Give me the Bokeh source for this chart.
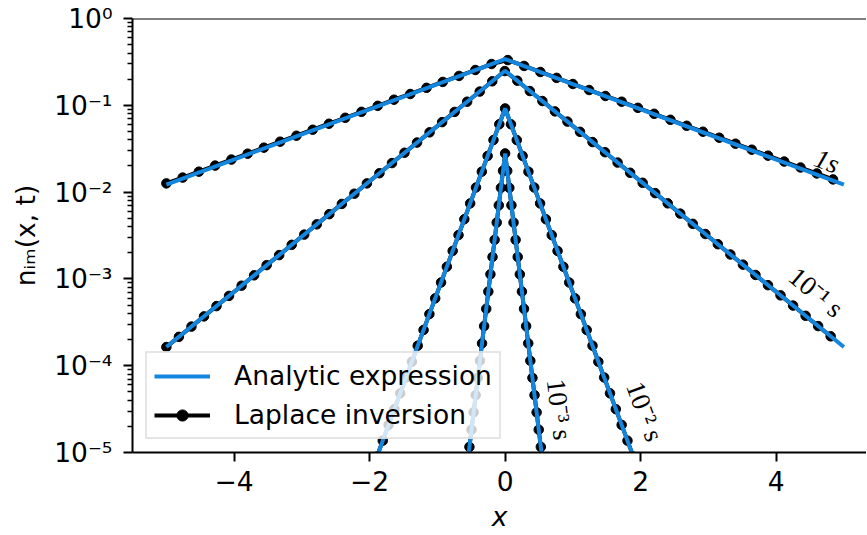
import math
from bokeh.plotting import figure
from bokeh.models import (ColumnDataSource, Range1d, FixedTicker, CustomJSTickFormatter,
                          Legend, LegendItem, Span)
from bokeh.core.properties import value
from bokeh.embed import file_html
from bokeh.resources import INLINE

# ---------------- data ----------------
# Laplace inversion points, t = 1 s
lap_1s_x = [-5.00, -4.76, -4.52, -4.28, -4.04, -3.80, -3.56, -3.32, -3.08, -2.84, -2.60,
            -2.36, -2.12, -1.88, -1.64, -1.40, -1.16, -0.92, -0.68, -0.44, -0.20, 0.04,
            0.28, 0.52, 0.76, 1.00, 1.24, 1.48, 1.72, 1.96, 2.20, 2.44, 2.68, 2.92, 3.16,
            3.40, 3.64, 3.88, 4.12, 4.36, 4.60, 4.84]
lap_1s_y = [1.26e-2, 1.47e-2, 1.72e-2, 2.02e-2, 2.37e-2, 2.77e-2, 3.25e-2, 3.81e-2, 4.46e-2,
            5.23e-2, 6.13e-2, 7.18e-2, 8.41e-2, 9.86e-2, 1.16e-1, 1.35e-1, 1.59e-1, 1.86e-1,
            2.18e-1, 2.55e-1, 2.99e-1, 3.32e-1, 2.84e-1, 2.42e-1, 2.07e-1, 1.76e-1, 1.50e-1,
            1.28e-1, 1.10e-1, 9.35e-2, 7.98e-2, 6.81e-2, 5.81e-2, 4.96e-2, 4.23e-2, 3.61e-2,
            3.08e-2, 2.63e-2, 2.25e-2, 1.92e-2, 1.64e-2, 1.40e-2]

# t = 0.1 s
lap_01s_x = [-5.000, -4.815, -4.630, -4.445, -4.260, -4.075, -3.890, -3.705, -3.520, -3.335,
             -3.150, -2.965, -2.780, -2.595, -2.410, -2.225, -2.040, -1.855, -1.670, -1.485,
             -1.300, -1.115, -0.930, -0.745, -0.560, -0.375, -0.190, -0.005, 0.180, 0.365,
             0.550, 0.735, 0.920, 1.105, 1.290, 1.475, 1.660, 1.845, 2.030, 2.215, 2.400,
             2.585, 2.770, 2.955, 3.140, 3.325, 3.510, 3.695, 3.880, 4.065, 4.250, 4.435,
             4.620, 4.805]
lap_01s_y = [1.64e-4, 2.15e-4, 2.82e-4, 3.70e-4, 4.86e-4, 6.37e-4, 8.35e-4, 1.10e-3, 1.44e-3,
             1.88e-3, 2.47e-3, 3.24e-3, 4.25e-3, 5.57e-3, 7.31e-3, 9.58e-3, 1.26e-2, 1.65e-2,
             2.16e-2, 2.84e-2, 3.72e-2, 4.88e-2, 6.40e-2, 8.39e-2, 1.10e-1, 1.44e-1, 1.89e-1,
             2.48e-1, 1.92e-1, 1.46e-1, 1.12e-1, 8.51e-2, 6.49e-2, 4.95e-2, 3.77e-2, 2.88e-2,
             2.19e-2, 1.67e-2, 1.28e-2, 9.73e-3, 7.42e-3, 5.65e-3, 4.31e-3, 3.29e-3, 2.51e-3,
             1.91e-3, 1.46e-3, 1.11e-3, 8.47e-4, 6.46e-4, 4.93e-4, 3.76e-4, 2.86e-4, 2.18e-4]

# t = 0.01 s
lap_001s_x = [-1.892, -1.806, -1.720, -1.634, -1.548, -1.462, -1.376, -1.290, -1.204, -1.118,
              -1.032, -0.946, -0.860, -0.774, -0.688, -0.602, -0.516, -0.430, -0.344, -0.258,
              -0.172, -0.086, 0.000, 0.086, 0.172, 0.258, 0.344, 0.430, 0.516, 0.602, 0.688,
              0.774, 0.860, 0.946, 1.032, 1.118, 1.204, 1.290, 1.376, 1.462, 1.548, 1.634,
              1.720, 1.806, 1.892]
lap_001s_y = [8.97e-6, 1.37e-5, 2.08e-5, 3.16e-5, 4.81e-5, 7.32e-5, 1.11e-4, 1.70e-4, 2.58e-4,
              3.93e-4, 5.97e-4, 9.09e-4, 1.38e-3, 2.10e-3, 3.20e-3, 4.87e-3, 7.41e-3, 1.13e-2,
              1.72e-2, 2.61e-2, 3.98e-2, 6.05e-2, 9.20e-2, 6.05e-2, 3.98e-2, 2.61e-2, 1.72e-2,
              1.13e-2, 7.41e-3, 4.87e-3, 3.20e-3, 2.10e-3, 1.38e-3, 9.09e-4, 5.97e-4, 3.93e-4,
              2.58e-4, 1.70e-4, 1.11e-4, 7.32e-5, 4.81e-5, 3.16e-5, 2.08e-5, 1.37e-5, 8.97e-6]

# t = 0.001 s
lap_0001s_x = [-0.558, -0.527, -0.496, -0.465, -0.434, -0.403, -0.372, -0.341, -0.310, -0.279,
               -0.248, -0.217, -0.186, -0.155, -0.124, -0.093, -0.062, -0.031, 0.000, 0.031,
               0.062, 0.093, 0.124, 0.155, 0.186, 0.217, 0.248, 0.279, 0.310, 0.341, 0.372,
               0.403, 0.434, 0.465, 0.496, 0.527, 0.558]
lap_0001s_y = [7.33e-6, 1.16e-5, 1.83e-5, 2.90e-5, 4.58e-5, 7.24e-5, 1.14e-4, 1.81e-4, 2.86e-4,
               4.52e-4, 7.14e-4, 1.13e-3, 1.79e-3, 2.82e-3, 4.46e-3, 7.05e-3, 1.12e-2, 1.76e-2,
               2.79e-2, 1.76e-2, 1.12e-2, 7.05e-3, 4.46e-3, 2.82e-3, 1.79e-3, 1.13e-3, 7.14e-4,
               4.52e-4, 2.86e-4, 1.81e-4, 1.14e-4, 7.24e-5, 4.58e-5, 2.90e-5, 1.83e-5, 1.16e-5,
               7.33e-6]

# Analytic expression (straight in log scale: ends and peak)
ana_1s_x = [-5.0, 0.0, 5.0]
ana_1s_y = [1.22e-2, 3.41e-1, 1.22e-2]
ana_01s_x = [-5.0, 0.0, 5.0]
ana_01s_y = [1.64e-4, 2.50e-1, 1.64e-4]
ana_001s_x = [-2.0, 0.0, 2.0]
ana_001s_y = [5.30e-6, 9.20e-2, 5.30e-6]
ana_0001s_x = [-0.6, 0.0, 0.6]
ana_0001s_y = [3.94e-6, 2.79e-2, 3.94e-6]

# curve labels
curve_labels = ["10\u207b\u00b9 s", "10\u207b\u00b2 s", "10\u207b\u00b3 s"]
curve_label_x = [4.59, 2.06, 0.80]
curve_label_y = [7.0e-4, 2.97e-5, 3.13e-5]
curve_label_angle_deg = [-40, -70, -83]
label_1s = ["1s"]
label_1s_x = [4.75]
label_1s_y = [2.27e-2]
label_1s_angle_deg = [-20]

# ticks
x_ticks = [-4, -2, 0, 2, 4]
x_tick_labels = ["\u22124", "\u22122", "0", "2", "4"]
y_ticks = [1e-5, 1e-4, 1e-3, 1e-2, 1e-1, 1.0]
y_tick_labels = ["10\u207b\u2075", "10\u207b\u2074", "10\u207b\u00b3", "10\u207b\u00b2",
                 "10\u207b\u00b9", "10\u2070"]

BLUE = "#1387e0"
FONT = "DejaVu Sans"
FS = "26.5px"
SERIF = "Liberation Serif"
SFS = "27px"

# ---------------- figure ----------------
p = figure(width=866, height=534, y_axis_type="log",
           x_range=Range1d(-5.5, 5.334), y_range=Range1d(1e-5, 1.0),
           output_backend="svg", toolbar_location=None,
           min_border_left=132, min_border_right=0, min_border_top=18, min_border_bottom=82)
p.xgrid.visible = False
p.ygrid.visible = False
p.outline_line_color = None
p.background_fill_color = "white"
p.border_fill_color = "white"

p.add_layout(Span(location=1.0, dimension="width", line_color="black", line_width=2))

for ax in (p.xaxis[0], p.yaxis[0]):
    ax.axis_line_width = 2
    ax.axis_line_color = "black"
    ax.major_tick_line_width = 2
    ax.major_tick_line_color = "black"
    ax.major_tick_out = 9
    ax.major_tick_in = 0
    ax.minor_tick_out = 5
    ax.minor_tick_in = 0
    ax.minor_tick_line_width = 1.5
    ax.minor_tick_line_color = "black"
    ax.major_label_text_font = FONT
    ax.major_label_text_font_size = FS
    ax.major_label_text_color = "black"
    ax.axis_label_text_font = FONT
    ax.axis_label_text_font_size = FS
    ax.axis_label_text_color = "black"

p.xaxis[0].ticker = FixedTicker(ticks=x_ticks)
p.xaxis[0].minor_tick_line_color = None
p.xaxis[0].major_label_overrides = {t: l for t, l in zip(x_ticks, x_tick_labels)}
p.xaxis[0].major_label_standoff = 9
p.xaxis[0].axis_label = "x"
p.xaxis[0].axis_label_text_font_style = "italic"
p.xaxis[0].axis_label_standoff = 7

minor_y = [m * 10.0 ** e for e in range(-5, 0) for m in range(2, 10)]
p.yaxis[0].ticker = FixedTicker(ticks=y_ticks, minor_ticks=minor_y)
p.yaxis[0].formatter = CustomJSTickFormatter(
    args=dict(tvals=y_ticks, tlabels=y_tick_labels),
    code="""
const lt = Math.log10(tick);
for (let i = 0; i < tvals.length; i++) {
  if (Math.abs(Math.log10(tvals[i]) - lt) < 1e-6) { return tlabels[i]; }
}
return '';
""")
p.yaxis[0].major_label_standoff = 11
p.yaxis[0].axis_label = "n\u1d62\u2098(x, t)"
p.yaxis[0].axis_label_text_font_style = "normal"
p.yaxis[0].axis_label_standoff = 10

# ---------------- glyphs ----------------
lap_sets = [(lap_1s_x, lap_1s_y), (lap_01s_x, lap_01s_y),
            (lap_001s_x, lap_001s_y), (lap_0001s_x, lap_0001s_y)]
ana_sets = [(ana_1s_x, ana_1s_y), (ana_01s_x, ana_01s_y),
            (ana_001s_x, ana_001s_y), (ana_0001s_x, ana_0001s_y)]

lap_line_r = []
lap_dot_r = []
for xs, ys in lap_sets:
    src = ColumnDataSource(dict(x=xs, y=ys))
    lap_line_r.append(p.line("x", "y", source=src, line_color="black", line_width=4))
    lap_dot_r.append(p.scatter("x", "y", source=src, size=9.5, fill_color="black",
                               line_color="black"))

ana_r = []
for xs, ys in ana_sets:
    src = ColumnDataSource(dict(x=xs, y=ys))
    ana_r.append(p.line("x", "y", source=src, line_color=BLUE, line_width=4))

lab_src = ColumnDataSource(dict(x=curve_label_x, y=curve_label_y, text=curve_labels,
                                angle=[math.radians(a) for a in curve_label_angle_deg]))
p.text("x", "y", text="text", angle="angle", source=lab_src,
       text_font=value(SERIF), text_font_size=SFS,
       text_align="center", text_baseline="middle", text_color="black")
lab1_src = ColumnDataSource(dict(x=label_1s_x, y=label_1s_y, text=label_1s,
                                 angle=[math.radians(a) for a in label_1s_angle_deg]))
p.text("x", "y", text="text", angle="angle", source=lab1_src,
       text_font=value(SERIF), text_font_size=SFS, text_font_style="italic",
       text_align="center", text_baseline="middle", text_color="black")

legend = Legend(items=[LegendItem(label="Analytic expression", renderers=[ana_r[0]]),
                       LegendItem(label="Laplace inversion",
                                  renderers=[lap_line_r[0], lap_dot_r[0]])],
                location=(13, 13))
legend.background_fill_color = "white"
legend.background_fill_alpha = 0.8
legend.border_line_color = "#cccccc"
legend.border_line_width = 2
legend.label_text_font = FONT
legend.label_text_font_size = FS
legend.label_text_color = "black"
legend.glyph_width = 56
legend.glyph_height = 28
legend.label_height = 28
legend.label_standoff = 24
legend.padding = 7
legend.spacing = 8
legend.margin = 0
p.add_layout(legend)

open("out.html", "w").write(file_html(p, INLINE))
